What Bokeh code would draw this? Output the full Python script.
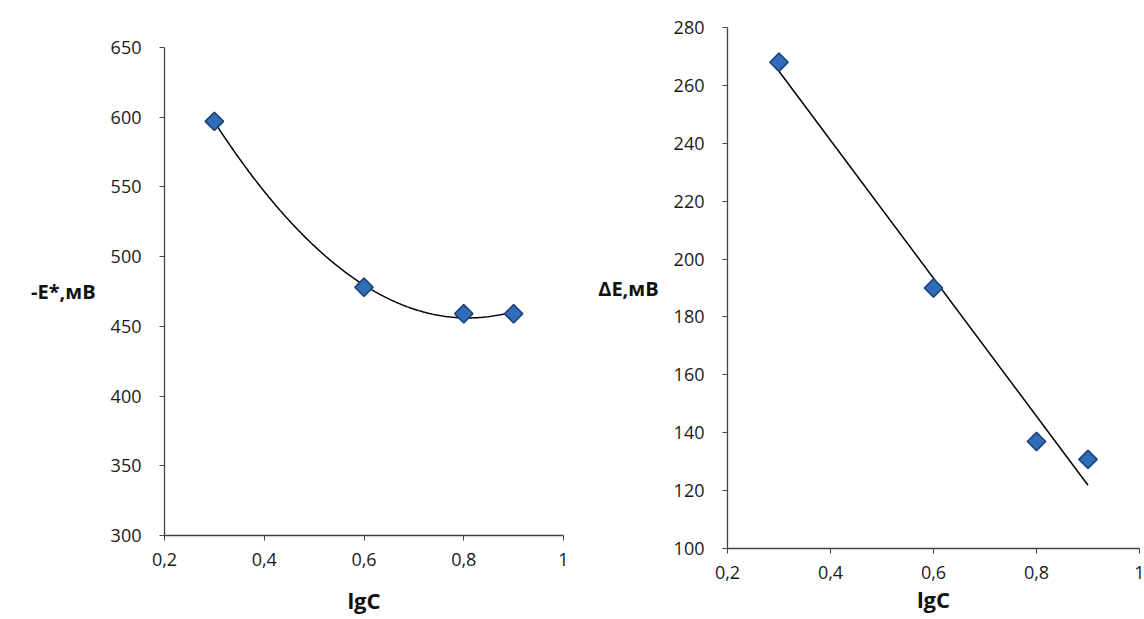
import numpy as np
from bokeh.plotting import figure
from bokeh.layouts import row, column
from bokeh.models import FixedTicker, Range1d
from bokeh.embed import file_html
from bokeh.resources import INLINE

# ---- data ----
lgC = [0.3, 0.6, 0.8, 0.9]
minus_E = [597, 478, 459, 459]          # -E*, мВ
delta_E = [268, 190, 137, 130.8]        # ΔE, мВ

x_ticks = [0.2, 0.4, 0.6, 0.8, 1.0]
x_tick_labels = ["0,2", "0,4", "0,6", "0,8", "1"]
left_y_ticks = [300, 350, 400, 450, 500, 550, 600, 650]
right_y_ticks = [100, 120, 140, 160, 180, 200, 220, 240, 260, 280]

x_title = "lgC"
left_y_title = "-E*,мВ"
right_y_title = "ΔE,мВ"

FONT = "Open Sans"
MARKER_FILL = "#2f6db8"
MARKER_LINE = "#1b3c74"


def style(p, yticks, xlab_standoff):
    p.xgrid.visible = False
    p.ygrid.visible = False
    p.outline_line_color = None
    p.background_fill_color = "white"
    p.border_fill_color = "white"
    p.xaxis.ticker = FixedTicker(ticks=x_ticks)
    p.xaxis.major_label_overrides = {t: l for t, l in zip(x_ticks, x_tick_labels)}
    p.yaxis.ticker = FixedTicker(ticks=yticks)
    for ax in (p.xaxis[0], p.yaxis[0]):
        ax.axis_line_color = "#444444"
        ax.axis_line_width = 1.3
        ax.major_tick_line_color = "#444444"
        ax.major_tick_in = 0
        ax.major_tick_out = 5
        ax.minor_tick_line_color = None
        ax.major_label_text_font = FONT
        ax.major_label_text_font_size = "18px"
        ax.major_label_text_color = "#1a1a1a"
        ax.axis_label_text_font = FONT
        ax.axis_label_text_font_style = "bold"
        ax.axis_label_text_color = "#111111"
    p.xaxis.axis_label = x_title
    p.xaxis.axis_label_text_font_size = "22px"
    p.xaxis.major_label_standoff = 12
    p.xaxis.axis_label_standoff = xlab_standoff
    p.yaxis.major_label_standoff = 18
    p.yaxis.axis_label_text_font_size = "20px"
    p.yaxis.axis_label_orientation = "horizontal"
    p.yaxis.axis_label_standoff = 12


# ---- left panel ----
p1 = figure(width=570, height=619, output_backend="svg", toolbar_location=None,
            x_range=Range1d(0.2, 1.0), y_range=Range1d(300, 650),
            min_border_left=164, min_border_right=7,
            min_border_top=47, min_border_bottom=84)
style(p1, left_y_ticks, 16)
p1.yaxis.axis_label = left_y_title

c2 = np.polyfit(lgC, minus_E, 2)
xs = np.linspace(min(lgC), max(lgC), 200)
p1.line(xs, np.polyval(c2, xs), line_color="black", line_width=1.5)
p1.scatter(lgC, minus_E, marker="square", angle=np.pi / 4, size=13,
           fill_color=MARKER_FILL, line_color=MARKER_LINE, line_width=1.5)

# ---- right panel ----
p2 = figure(width=574, height=619, output_backend="svg", toolbar_location=None,
            x_range=Range1d(0.2, 1.0), y_range=Range1d(100, 280),
            min_border_left=157, min_border_right=5,
            min_border_top=27, min_border_bottom=71)
style(p2, right_y_ticks, 2)
p2.yaxis.axis_label = right_y_title

c1 = np.polyfit(lgC, delta_E, 1)
xl = np.array([min(lgC), max(lgC)])
p2.line(xl, np.polyval(c1, xl), line_color="black", line_width=1.5)
p2.scatter(lgC, delta_E, marker="square", angle=np.pi / 4, size=13,
           fill_color=MARKER_FILL, line_color=MARKER_LINE, line_width=1.5)

layout = row(column(p1), column(p2))
open("out.html", "w").write(file_html(layout, INLINE))
